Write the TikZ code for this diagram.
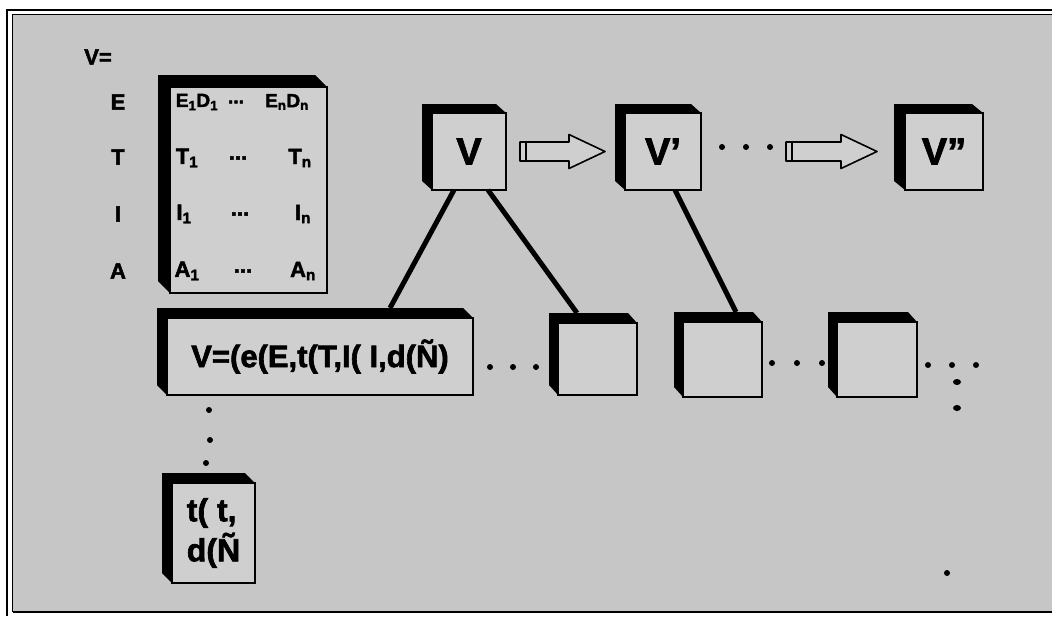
\documentclass[tikz,border=0pt]{standalone}
\usepackage{fontspec}
\setmainfont{Liberation Sans}[BoldFeatures={FakeBold=2}]
\usetikzlibrary{calc}
\definecolor{bgcol}{RGB}{198,198,198}
\definecolor{facecol}{RGB}{207,207,207}
\newcommand\bevelbox[3]{%
  \fill[black] ([shift={(-#2,-#3)}]#1.north west) -- ([shift={(-#2,-#3)}]#1.north east)
    -- (#1.north east) -- (#1.north west) -- (#1.south west)
    -- ([shift={(-#2,-#3)}]#1.south west) -- cycle;}
\newcommand\blockarrow[2]{%
  \draw[blockarrow] let \p1=#1, \p2=#2 in
    (\x1,\y1+9.5pt) -- (\x2-36pt,\y1+9.5pt) -- (\x2-36pt,\y1+17pt) -- (\x2,\y1)
    -- (\x2-36pt,\y1-17pt) -- (\x2-36pt,\y1-9.5pt) -- (\x1,\y1-9.5pt) -- cycle
    (\x1+6pt,\y1+9.5pt) -- (\x1+6pt,\y1-9.5pt);}
\begin{document}
\begin{tikzpicture}[x=1pt,y=-1pt,
  face/.style={draw=black, line width=1.8pt, fill=facecol, anchor=north west,
    inner sep=0pt, outer sep=0pt, font=\bfseries},
  conn/.style={line width=5pt},
  lbl/.style={font=\fontsize{22}{22}\selectfont\bfseries, inner sep=0pt},
  ent/.style={font=\fontsize{22}{22}\selectfont\bfseries, inner sep=0pt},
  entsm/.style={font=\fontsize{19}{19}\selectfont\bfseries, inner sep=0pt},
  blockarrow/.style={draw=black, line width=1.6pt, fill=facecol, line join=round},
  dotm/.style={fill=black}
]
\useasboundingbox (0,0) rectangle (1052,616);
% frame
\fill[white] (0,0) rectangle (1052,616);
\fill[bgcol] (13,15) rectangle (1052,611);
\draw[line width=2.2pt] (7,616) -- (7,10) -- (1052,10);
\draw[line width=1.5pt] (12.5,612) -- (12.5,14.5) -- (1052,14.5);
\draw[line width=1.5pt] (12.5,612) -- (1052,612);

% matrix
\node[lbl] (veq) at (98,57) {V=};
\node[lbl] (lE) at (118,102) {E};
\node[lbl] (lT) at (118,157) {T};
\node[lbl] (lI) at (118,214) {I};
\node[lbl] (lA) at (118,271) {A};
\node[face, minimum width=157, minimum height=206] (mat) at (170,87) {};
\bevelbox{mat}{12}{12}
\node[entsm] (e1) at (197,102) {E\textsubscript{1}D\textsubscript{1}};
\node[entsm] (e2) at (236,102) {...};
\node[entsm] (e3) at (287,102) {E\textsubscript{n}D\textsubscript{n}};
\node[ent] (t1) at (187,158) {T\textsubscript{1}};
\node[ent] (t2) at (238,158) {...};
\node[ent] (t3) at (300,158) {T\textsubscript{n}};
\node[ent] (i1) at (184,214) {I\textsubscript{1}};
\node[ent] (i2) at (240,214) {...};
\node[ent] (i3) at (303,214) {I\textsubscript{n}};
\node[ent] (a1) at (187,271) {A\textsubscript{1}};
\node[ent] (a2) at (243,271) {...};
\node[ent] (a3) at (303,271) {A\textsubscript{n}};

% top row
\node[face, minimum width=74, minimum height=77, font=\fontsize{38}{38}\selectfont\bfseries] (v1) at (432,113) {V};
\node[face, minimum width=76, minimum height=77, font=\fontsize{38}{38}\selectfont\bfseries] (v2) at (625,113) {V'};
\node[face, minimum width=78, minimum height=77, font=\fontsize{38}{38}\selectfont\bfseries] (v3) at (905,113) {V''};
\bevelbox{v1}{10}{9}
\bevelbox{v2}{10}{9}
\bevelbox{v3}{11}{9}
\blockarrow{($(v1.east)+(14,0)$)}{($(v2.west)+(-20,0)$)}
\blockarrow{($(v2.east)+(85,0)$)}{($(v3.west)+(-28,0)$)}
\foreach \x in {722,746,770} \fill[dotm] (\x,147) circle (3);

% bottom row
\node[face, minimum width=306, minimum height=77, font=\fontsize{31}{31}\selectfont\bfseries] (big) at (167,318) {V=(e(E,t(T,I( I,d(Ñ)};
\bevelbox{big}{10}{10}
\node[face, minimum width=79, minimum height=72] (b1) at (558,323) {};
\node[face, minimum width=79, minimum height=75] (b2) at (683,322) {};
\node[face, minimum width=80, minimum height=75] (b3) at (837,322) {};
\bevelbox{b1}{9}{10}
\bevelbox{b2}{9}{10}
\bevelbox{b3}{9}{10}
\node[face, minimum width=83, minimum height=100, align=left, font=\fontsize{32}{40}\selectfont\bfseries] (bt) at (172,483) {t( t,\\d(Ñ};
\bevelbox{bt}{10}{10}

% connectors
\draw[conn] ($(v1.south west)+(22,0)$) -- ($(big.north west)+(223,-10)$);
\draw[conn] ($(v1.south west)+(56,0)$) -- ($(b1.north west)+(19,-10)$);
\draw[conn] ($(v2.south west)+(50,0)$) -- ($(b2.north west)+(53,-10)$);

% dots
\foreach \x in {490,513,536} \fill[dotm] (\x,367) circle (3);
\foreach \x in {772,797,822} \fill[dotm] (\x,363) circle (3);
\foreach \x in {928,952,976} \fill[dotm] (\x,365) circle (3);
\fill[dotm] (957,382) ellipse (4 and 3);
\fill[dotm] (957,408) ellipse (4 and 3);
\fill[dotm] (209,410) circle (3);
\fill[dotm] (210,440) circle (3);
\fill[dotm] (206,463) circle (3);
\fill[dotm] (947,573) circle (3);
\end{tikzpicture}
\end{document}
